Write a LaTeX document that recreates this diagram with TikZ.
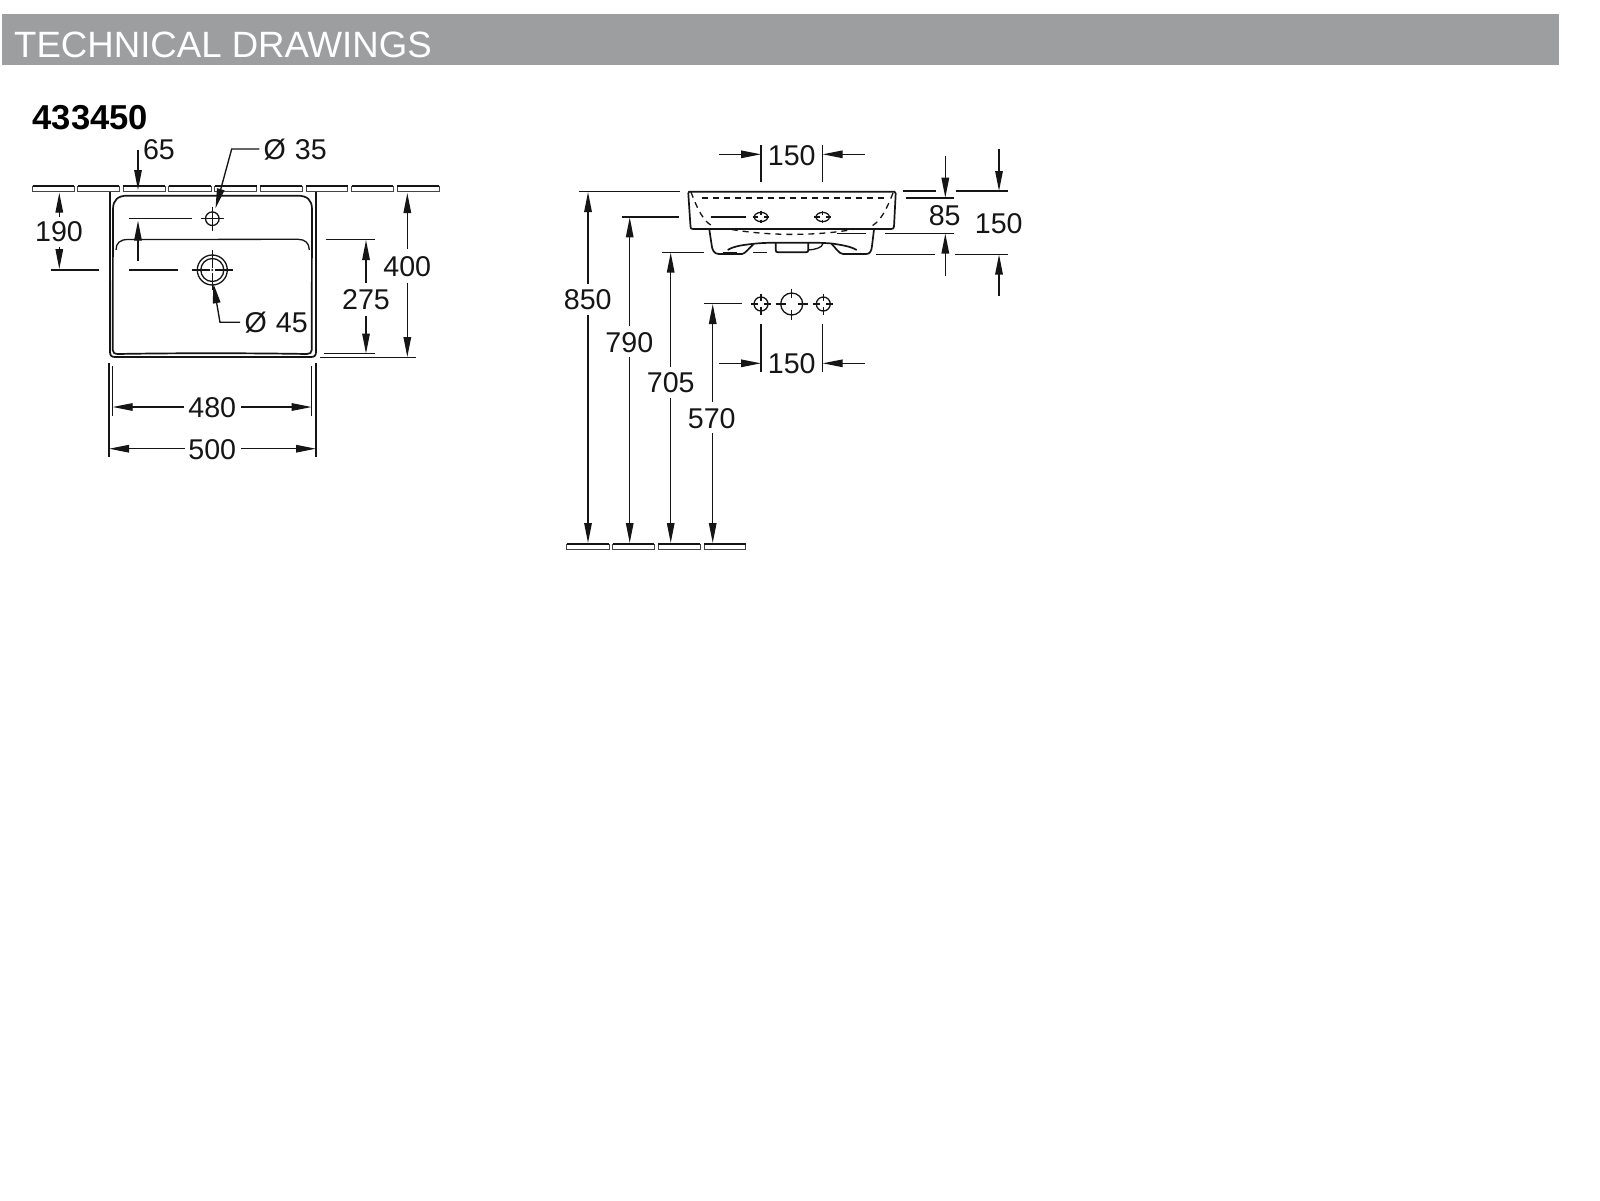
\documentclass[tikz,border=0pt]{standalone}
\usepackage{fontspec}
\setmainfont{Liberation Sans}
\usetikzlibrary{arrows.meta}
\definecolor{bannergrey}{HTML}{9D9E9F}
\definecolor{ink}{HTML}{151515}
\tikzset{
  drawline/.style={draw=ink,line width=1.3pt},
  thickline/.style={draw=ink,line width=1.7pt,line join=round},
  arrowline/.style={draw=ink,line width=1.35pt,-{Triangle[length=20pt,width=7.5pt]}},
  extline/.style={draw=ink,line width=1.35pt},
  crossline/.style={draw=ink,line width=1.3pt},
  dashline/.style={draw=ink,line width=1.3pt,dash pattern=on 6pt off 5pt},
  tile/.style={draw=ink!80,line width=0.8pt},
  tiletop/.style={draw=ink,line width=1.2pt},
  dimtext/.style={inner sep=0pt,text=ink,font=\fontsize{28.6}{28.6}\selectfont},
}
\newcommand{\dimarrow}[3]{\coordinate (#1a) at (#2); \coordinate (#1b) at (#3); \draw[arrowline] (#1a) -- (#1b);}
\newcommand{\dimext}[3]{\coordinate (#1a) at (#2); \coordinate (#1b) at (#3); \draw[extline] (#1a) -- (#1b);}
\newcommand{\tilebox}[3]{\draw[tile] (#1,#3) rectangle (#2,#3+5.5);\draw[tiletop] (#1,#3) -- (#2,#3);}
% x, y, half-width, half-height, radius, centre gap
\newcommand{\crosshair}[6]{\draw[crossline] (#1-#3,#2) -- (#1-#6,#2) (#1+#6,#2) -- (#1+#3,#2) (#1,#2-#4) -- (#1,#2-#6) (#1,#2+#6) -- (#1,#2+#4);\draw[crossline] (#1,#2) circle (#5);}
\begin{document}
\begin{tikzpicture}[x=1pt,y=-1pt]
\path[fill=white,use as bounding box] (0,0) rectangle (1600,1200);
% banner
\fill[bannergrey] (2,14) rectangle (1559,65);
\node[anchor=west,inner sep=0pt,text=white,font=\fontsize{36.6}{36.6}\selectfont] (title) at (14,44.5) {TECHNICAL DRAWINGS};
\node[anchor=west,inner sep=0pt,text=black,font=\fontsize{34.6}{34.6}\selectfont\bfseries] (code) at (32.5,118) {433450};

% --- plan view: wall tiles
\foreach \a/\b in {32.7/74,77.7/119.3,123.3/165,168.7/211,214.7/256.7,260.3/302,306/347.7,351.7/393.3,397.3/439.3}{\tilebox{\a}{\b}{186}}
% basin outline
\draw[thickline] (110,192) -- (110,352) .. controls (110,355.5) and (111.5,357) .. (115,357) -- (311,357) .. controls (314.5,357) and (316,355.5) .. (316,352) -- (316,192);
\draw[thickline] (112.7,350) -- (113,209) .. controls (113,200) and (118,195.7) .. (127,195.7) -- (298,195.7) .. controls (307,195.7) and (312,200) .. (312,209) -- (311.7,350) .. controls (311.7,352.5) and (310,354) .. (307,354) .. controls (250,353) and (170,353) .. (118,354) .. controls (114.5,354) and (112.7,352.5) .. (112.7,350) -- cycle;
\draw[drawline] (116,250) .. controls (116,243) and (120,239.5) .. (128,239.5) -- (298,239.3) .. controls (305,239.3) and (309.3,243) .. (309.3,250);
% holes
\crosshair{212.3}{218.7}{11.7}{12}{6.8}{0}
\crosshair{212.3}{270}{20.8}{20}{11.5}{2.5}
\draw[crossline] (212.3,270) circle (15);
\fill[ink] (212.3,270) circle (1.1);
% plan dims
\node[dimtext] (d65) at (159,149.5) {65};
\dimarrow{p65t}{138,150}{138,190}
\dimarrow{p65b}{138,260.7}{138,220.7}
\dimext{p65e}{129.3,218.3}{191.7,218.3}
\node[dimtext,anchor=base west] (dia35) at (263.5,159.3) {Ø\hspace{1pt} 35};
\coordinate (l35a) at (259.3,149);\coordinate (l35b) at (231.7,149);\coordinate (l35c) at (215.5,208.5);
\draw[arrowline] (l35a) -- (l35b) -- (l35c);
\node[dimtext,anchor=base west] (dia45) at (244.5,332) {Ø\hspace{1pt} 45};
\coordinate (l45a) at (240,322.3);\coordinate (l45b) at (220,322.3);\coordinate (l45c) at (213.3,283.3);
\draw[arrowline] (l45a) -- (l45b) -- (l45c);
\node[dimtext] (d190) at (59,231.5) {190};
\dimarrow{p190t}{59.3,217}{59.3,192.7}
\dimarrow{p190b}{59.3,246.7}{59.3,269}
\dimext{p190e}{50.7,270}{99,270}
\dimext{p190f}{129,270}{178.3,270}
\node[dimtext] (d275) at (366,300) {275};
\dimarrow{p275t}{366,283}{366,240}
\dimarrow{p275b}{366,316}{366,353.5}
\dimext{p275e}{326,239.3}{375,239.3}
\dimext{p275f}{324,353.7}{375,353.7}
\node[dimtext] (d400) at (407.3,266.7) {400};
\dimarrow{p400t}{407.3,249}{407.3,193}
\dimarrow{p400b}{407.3,282.7}{407.3,357}
\dimext{p400e}{320,357.3}{416,357.3}
\node[dimtext] (d480) at (212.3,407.5) {480};
\dimarrow{p480l}{184,407}{112.7,407}
\dimarrow{p480r}{241,407}{311.7,407}
\dimext{p480e}{112.7,366}{112.7,416}
\dimext{p480f}{311.7,366}{311.7,416}
\node[dimtext] (d500) at (212.3,449.3) {500};
\dimarrow{p500l}{185,448.7}{109,448.7}
\dimarrow{p500r}{240.7,448.7}{316,448.7}
\dimext{p500e}{109,362.7}{109,457.3}
\dimext{p500f}{316,362.7}{316,457.3}

% --- front view: basin
\draw[thickline] (689,191.7) -- (894.5,191.7) .. controls (895.5,191.7) and (895.7,192.5) .. (895.7,193.5) -- (894,226.5) .. controls (893.9,228.3) and (893,229) .. (891,229) -- (693,229) .. controls (691,229) and (690.6,228.3) .. (690.5,226.5) -- (688.3,193.5) .. controls (688.3,192.5) and (688.5,191.7) .. (689,191.7) -- cycle;
\draw[dashline] (701.7,198) -- (885,198);
\draw[dashline] (691,192) .. controls (697,208) and (704,224) .. (715,227);
\draw[dashline] (893,193) .. controls (887,208) and (880,224) .. (869,227);
\draw[dashline] (731.7,229.5) .. controls (770,236) and (815,236) .. (853,229.5);
% lower body
\draw[thickline] (709.3,229.3) -- (711.5,244) .. controls (712,250) and (714,254) .. (719,254) -- (742,254) .. controls (745,254) and (750,247) .. (753.5,244.3);
\draw[thickline] (727.7,250) .. controls (733,246.5) and (742,245) .. (751.7,244) .. controls (760,243) and (768,242.7) .. (776.7,242.7) -- (808.3,242.7) .. controls (820,242.7) and (826,243) .. (831.7,243.5) .. controls (842,245) and (851,246.5) .. (856.7,250);
\draw[thickline] (831.7,244) .. controls (835,247) and (839,254) .. (843,254) -- (866,254) .. controls (870,254) and (871.5,251) .. (872,246) -- (874,229.3);
\draw[thickline] (775.7,243) -- (775.7,250) .. controls (775.7,251.5) and (776.5,252.3) .. (778,252.3) -- (806,252.3) .. controls (807.5,252.3) and (808.3,251.5) .. (808.3,250) -- (808.3,243);
\draw[drawline] (808.3,250) .. controls (815,249.5) and (822,248) .. (823,243.5);
\draw[thickline] (723,252.5) -- (737,252.5);
% front holes
\foreach \cx in {761,822.7}{
  \draw[crossline] (\cx,217) ellipse [x radius=6.7,y radius=4.6];
  \draw[crossline] (\cx-8.3,217) -- (\cx-3,217) (\cx+3,217) -- (\cx+8.3,217) (\cx,210.7) -- (\cx,214.5) (\cx,219.5) -- (\cx,223.3);
}
% rough-in holes
\crosshair{761}{304}{10}{10.5}{7}{3}
\crosshair{791.7}{304}{16}{15.5}{11}{6}
\crosshair{823.3}{304}{10}{10.5}{7}{3}
% floor tiles
\foreach \a/\b in {566.7/609,612.7/654.3,658.3/700,704/745.7}{\tilebox{\a}{\b}{544}}
% top 150
\node[dimtext] (dt150) at (791.7,155.3) {150};
\dimarrow{ft1}{719.3,154.3}{761,154.3}
\dimarrow{ft2}{865,154.3}{822.7,154.3}
\dimext{ft3}{761,145}{761,181.7}
\dimext{ft4}{822.7,145}{822.7,181.7}
% bottom 150
\node[dimtext] (db150) at (791.7,363.5) {150};
\dimarrow{fb1}{719.3,363.3}{761,363.3}
\dimarrow{fb2}{865,363.3}{822.7,363.3}
\dimext{fb3}{761,324}{761,371.7}
\dimext{fb4}{822.7,324}{822.7,371.7}
% heights
\node[dimtext] (d850) at (587.7,300) {850};
\dimarrow{h850t}{588,284}{588,192}
\dimarrow{h850b}{588,315}{588,543}
\dimext{h850e}{579.3,191.7}{680,191.7}
\node[dimtext] (d790) at (629.3,342.5) {790};
\dimarrow{h790t}{629.7,325.7}{629.7,217.3}
\dimarrow{h790b}{629.7,357.3}{629.7,543}
\dimext{h790e}{621.7,217}{679.3,217}
\dimext{h790f}{710.7,217}{745.7,217}
\node[dimtext] (d705) at (670.7,383) {705};
\dimarrow{h705t}{670.7,367.3}{670.7,252.6}
\dimarrow{h705b}{670.7,398.3}{670.7,543}
\dimext{h705e}{661.7,252.3}{704,252.3}
\dimext{h705f}{752.7,252.5}{766.7,252.5}
\node[dimtext] (d570) at (711.7,418.3) {570};
\dimarrow{h570t}{712.7,401.7}{712.7,304}
\dimarrow{h570b}{712.7,433.3}{712.7,543}
\dimext{h570e}{704,303.7}{741.7,303.7}
% 85
\node[dimtext] (d85) at (944.7,216) {85};
\dimarrow{r85t}{945.3,156}{945.3,197.7}
\dimarrow{r85b}{945.3,275.7}{945.3,233.5}
\dimext{r85e}{902.7,191}{935.7,191}
\dimext{r85f}{905.7,198}{954,198}
\dimext{r85g}{837.3,233.3}{866,233.3}
\dimext{r85h}{885,233.3}{954,233.3}
% right 150
\node[dimtext] (dr150) at (998.7,223.3) {150};
\dimarrow{r150t}{999,149.3}{999,191}
\dimarrow{r150b}{999,295.7}{999,254.5}
\dimext{r150e}{955.7,191}{1007.7,191}
\dimext{r150f}{955,254.3}{1007.7,254.3}
\dimext{r150g}{876,254.3}{935,254.3}
\end{tikzpicture}
\end{document}
